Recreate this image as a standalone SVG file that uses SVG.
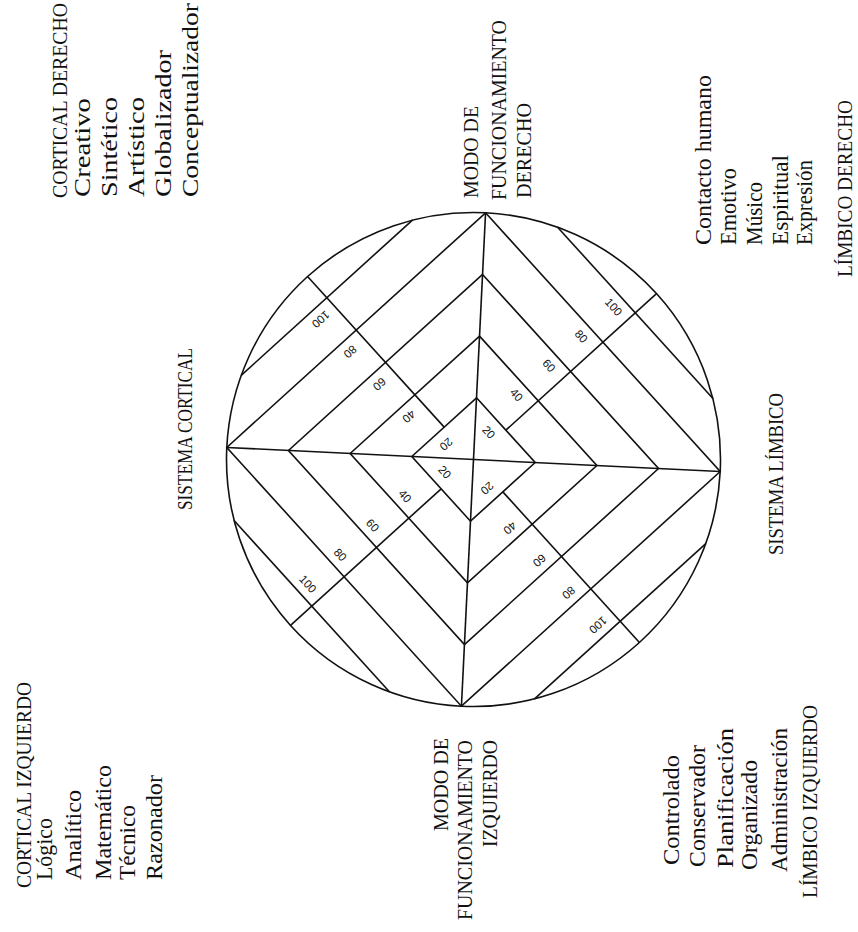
<svg xmlns="http://www.w3.org/2000/svg" width="858" height="932" viewBox="0 0 858 932">
<style>
.ln{fill:none;stroke:#111;stroke-width:1.6;stroke-linejoin:miter}
.t{font-family:"Liberation Serif","DejaVu Serif",serif;fill:#111}
.cap{font-size:20px}
.it{font-size:23px}
.n{font-family:"Liberation Sans",Arial,sans-serif;font-size:11.5px;fill:#111;text-anchor:middle;dominant-baseline:central}
</style>
<rect width="858" height="932" fill="#fff"/>
<g id="grid" transform="translate(473.5,459.5) rotate(2.8)">
  <circle class="ln" cx="0" cy="0" r="247"/>
  <polygon class="ln" points="0,-61.75 61.75,0 0,61.75 -61.75,0"/>
  <polygon class="ln" points="0,-123.5 123.5,0 0,123.5 -123.5,0"/>
  <polygon class="ln" points="0,-185.25 185.25,0 0,185.25 -185.25,0"/>
  <polygon class="ln" points="0,-247 247,0 0,247 -247,0"/>
  <g id="connectors">
    <line class="ln" x1="-247" y1="0" x2="247" y2="0"/>
    <line class="ln" x1="0" y1="-247" x2="0" y2="247"/>
    <line class="ln" x1="72.4" y1="-236.4" x2="236.4" y2="-72.4"/>
    <line class="ln" x1="-72.4" y1="-236.4" x2="-236.4" y2="-72.4"/>
    <line class="ln" x1="-72.4" y1="236.4" x2="-236.4" y2="72.4"/>
    <line class="ln" x1="72.4" y1="236.4" x2="236.4" y2="72.4"/>
    <line class="ln" x1="30.87" y1="-30.87" x2="174.66" y2="-174.66"/>
    <line class="ln" x1="-30.87" y1="-30.87" x2="-174.66" y2="-174.66"/>
    <line class="ln" x1="-30.87" y1="30.87" x2="-174.66" y2="174.66"/>
    <line class="ln" x1="30.87" y1="30.87" x2="174.66" y2="174.66"/>
  </g>
  <g id="scale-ur">
    <text class="n" transform="translate(13.9,-28.04) rotate(45)">20</text>
    <text class="n" transform="translate(39.83,-66.69) rotate(45)">40</text>
    <text class="n" transform="translate(70.7,-97.56) rotate(45)">60</text>
    <text class="n" transform="translate(101.57,-128.43) rotate(45)">80</text>
    <text class="n" transform="translate(132.45,-159.31) rotate(45)">100</text>
  </g>
  <g id="scale-ul">
    <text class="n" transform="translate(-28.04,-13.9) rotate(135)">20</text>
    <text class="n" transform="translate(-66.69,-39.83) rotate(135)">40</text>
    <text class="n" transform="translate(-97.56,-70.7) rotate(135)">60</text>
    <text class="n" transform="translate(-128.43,-101.57) rotate(135)">80</text>
    <text class="n" transform="translate(-159.31,-132.45) rotate(135)">100</text>
  </g>
  <g id="scale-ll">
    <text class="n" transform="translate(-28.04,13.9) rotate(45)">20</text>
    <text class="n" transform="translate(-66.69,39.83) rotate(45)">40</text>
    <text class="n" transform="translate(-97.56,70.7) rotate(45)">60</text>
    <text class="n" transform="translate(-128.43,101.57) rotate(45)">80</text>
    <text class="n" transform="translate(-159.31,132.45) rotate(45)">100</text>
  </g>
  <g id="scale-lr">
    <text class="n" transform="translate(15,28) rotate(135)">20</text>
    <text class="n" transform="translate(39.83,66.69) rotate(135)">40</text>
    <text class="n" transform="translate(70.7,97.56) rotate(135)">60</text>
    <text class="n" transform="translate(101.57,128.43) rotate(135)">80</text>
    <text class="n" transform="translate(132.45,159.31) rotate(135)">100</text>
  </g>
</g>
<g id="cortical-derecho" class="t">
  <text class="cap" transform="translate(67,198) rotate(-90)" textLength="195" lengthAdjust="spacingAndGlyphs">CORTICAL DERECHO</text>
  <text class="it" transform="translate(90,197) rotate(-90)" textLength="99" lengthAdjust="spacingAndGlyphs">Creativo</text>
  <text class="it" transform="translate(117,197) rotate(-90)" textLength="100" lengthAdjust="spacingAndGlyphs">Sintético</text>
  <text class="it" transform="translate(144,197) rotate(-90)" textLength="100" lengthAdjust="spacingAndGlyphs">Artístico</text>
  <text class="it" transform="translate(171,197) rotate(-90)" textLength="147" lengthAdjust="spacingAndGlyphs">Globalizador</text>
  <text class="it" transform="translate(198,197) rotate(-90)" textLength="194" lengthAdjust="spacingAndGlyphs">Conceptualizador</text>
</g>
<g id="cortical-izquierdo" class="t">
  <text class="cap" transform="translate(31,888) rotate(-90)" textLength="206" lengthAdjust="spacingAndGlyphs">CORTICAL IZQUIERDO</text>
  <text class="it" transform="translate(52,880) rotate(-90)" textLength="62" lengthAdjust="spacingAndGlyphs">Lógico</text>
  <text class="it" transform="translate(81,880) rotate(-90)" textLength="90" lengthAdjust="spacingAndGlyphs">Analítico</text>
  <text class="it" transform="translate(111,880) rotate(-90)" textLength="115" lengthAdjust="spacingAndGlyphs">Matemático</text>
  <text class="it" transform="translate(135,880) rotate(-90)" textLength="75" lengthAdjust="spacingAndGlyphs">Técnico</text>
  <text class="it" transform="translate(162,880) rotate(-90)" textLength="105" lengthAdjust="spacingAndGlyphs">Razonador</text>
</g>
<g id="sistema-cortical" class="t">
  <text class="cap" transform="translate(192,510) rotate(-90)" textLength="162" lengthAdjust="spacingAndGlyphs">SISTEMA CORTICAL</text>
</g>
<g id="modo-derecho" class="t">
  <text class="cap" transform="translate(478,198) rotate(-90)" textLength="92" lengthAdjust="spacingAndGlyphs">MODO DE</text>
  <text class="cap" transform="translate(506,200) rotate(-90)" textLength="180" lengthAdjust="spacingAndGlyphs">FUNCIONAMIENTO</text>
  <text class="cap" transform="translate(531,198) rotate(-90)" textLength="95" lengthAdjust="spacingAndGlyphs">DERECHO</text>
</g>
<g id="modo-izquierdo" class="t" text-anchor="end">
  <text class="cap" transform="translate(448,738) rotate(-90)" textLength="93" lengthAdjust="spacingAndGlyphs">MODO DE</text>
  <text class="cap" transform="translate(472,740) rotate(-90)" textLength="180" lengthAdjust="spacingAndGlyphs">FUNCIONAMIENTO</text>
  <text class="cap" transform="translate(497,740) rotate(-90)" textLength="107" lengthAdjust="spacingAndGlyphs">IZQUIERDO</text>
</g>
<g id="sistema-limbico" class="t">
  <text class="cap" transform="translate(783,555) rotate(-90)" textLength="162" lengthAdjust="spacingAndGlyphs">SISTEMA LÍMBICO</text>
</g>
<g id="limbico-derecho" class="t">
  <text class="it" transform="translate(711,245) rotate(-90)" textLength="170" lengthAdjust="spacingAndGlyphs">Contacto humano</text>
  <text class="it" transform="translate(736,245) rotate(-90)" textLength="77" lengthAdjust="spacingAndGlyphs">Emotivo</text>
  <text class="it" transform="translate(762,245) rotate(-90)" textLength="63" lengthAdjust="spacingAndGlyphs">Músico</text>
  <text class="it" transform="translate(788,245) rotate(-90)" textLength="90" lengthAdjust="spacingAndGlyphs">Espiritual</text>
  <text class="it" transform="translate(812,245) rotate(-90)" textLength="85" lengthAdjust="spacingAndGlyphs">Expresión</text>
  <text class="cap" transform="translate(852,277) rotate(-90)" textLength="177" lengthAdjust="spacingAndGlyphs">LÍMBICO DERECHO</text>
</g>
<g id="limbico-izquierdo" class="t">
  <text class="it" transform="translate(679,865) rotate(-90)" textLength="110" lengthAdjust="spacingAndGlyphs">Controlado</text>
  <text class="it" transform="translate(705,867) rotate(-90)" textLength="122" lengthAdjust="spacingAndGlyphs">Conservador</text>
  <text class="it" transform="translate(733,868) rotate(-90)" textLength="140" lengthAdjust="spacingAndGlyphs">Planificación</text>
  <text class="it" transform="translate(757,870) rotate(-90)" textLength="110" lengthAdjust="spacingAndGlyphs">Organizado</text>
  <text class="it" transform="translate(787,872) rotate(-90)" textLength="144" lengthAdjust="spacingAndGlyphs">Administración</text>
  <text class="cap" transform="translate(817,898) rotate(-90)" textLength="193" lengthAdjust="spacingAndGlyphs">LÍMBICO IZQUIERDO</text>
</g>
</svg>
